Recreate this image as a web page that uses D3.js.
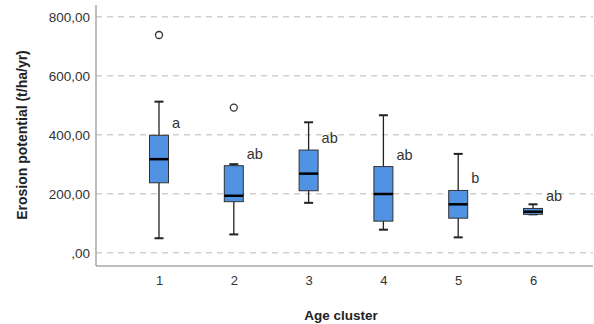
<!DOCTYPE html>
<html>
<head>
<meta charset="utf-8">
<script src="https://cdn.jsdelivr.net/npm/d3@7"></script>
<style>
  body { margin: 0; background: #fff; }
  svg { display: block; font-family: "Liberation Sans", Arial, sans-serif; }
</style>
</head>
<body>
<div id="chart"></div>
<script>
// Données
const clusters = ["1", "2", "3", "4", "5", "6"];
const whiskerLow = [49, 62, 169, 78, 52, 130];
const q1 = [237, 173, 210, 107, 117, 130];
const median = [317, 193, 268, 199, 164, 139];
const q3 = [398, 295, 348, 292, 211, 150];
const whiskerHigh = [512, 300, 442, 466, 335, 164];
const outliers = [[738], [492], [], [], [], []];
const groupLabels = ["a", "ab", "ab", "ab", "b", "ab"];
const yTicks = [0, 200, 400, 600, 800];

const width = 594, height = 324;
const left = 96, right = 593, bottom = 266;

const svg = d3.select("#chart")
  .append("svg")
  .attr("width", width)
  .attr("height", height);

const x = d3.scalePoint()
  .domain(clusters)
  .range([159, 533]);

const y = d3.scaleLinear()
  .domain([0, 800])
  .range([252.7, 16.7]);

// Grille en pointillés
svg.append("g")
  .selectAll("line")
  .data(yTicks)
  .join("line")
  .attr("x1", left)
  .attr("x2", right)
  .attr("y1", d => y(d))
  .attr("y2", d => y(d))
  .attr("stroke", "#cfcfcf")
  .attr("stroke-width", 1.5)
  .attr("stroke-dasharray", "6,5");

// Axes
const yAxis = svg.append("g")
  .attr("transform", "translate(" + left + ",0)")
  .call(d3.axisLeft(y).tickValues(yTicks).tickSize(0).tickPadding(6)
    .tickFormat(d => d === 0 ? ",00" : d3.format(".2f")(d).replace(".", ",")));
yAxis.select(".domain").remove();
yAxis.selectAll("text").attr("font-size", 13.5).attr("fill", "#333")
  .attr("font-family", "Liberation Sans, Arial, sans-serif");

const xAxis = svg.append("g")
  .attr("transform", "translate(0," + bottom + ")")
  .call(d3.axisBottom(x).tickSize(0).tickPadding(10));
xAxis.select(".domain").remove();
xAxis.selectAll("text").attr("font-size", 13).attr("fill", "#333")
  .attr("font-family", "Liberation Sans, Arial, sans-serif");

svg.append("line")
  .attr("x1", left).attr("x2", left)
  .attr("y1", 5).attr("y2", bottom)
  .attr("stroke", "#a8a8a8").attr("stroke-width", 1.5);
svg.append("line")
  .attr("x1", left).attr("x2", right)
  .attr("y1", bottom).attr("y2", bottom)
  .attr("stroke", "#a8a8a8").attr("stroke-width", 1.5);

// Boîtes à moustaches
const boxW = 19, capW = 9;
const g = svg.append("g")
  .selectAll("g")
  .data(clusters)
  .join("g");

g.append("line")
  .attr("x1", d => x(d)).attr("x2", d => x(d))
  .attr("y1", (d, i) => y(whiskerHigh[i]))
  .attr("y2", (d, i) => y(whiskerLow[i]))
  .attr("stroke", "#222").attr("stroke-width", 1.3);

g.append("line")
  .attr("x1", d => x(d) - capW / 2).attr("x2", d => x(d) + capW / 2)
  .attr("y1", (d, i) => y(whiskerHigh[i]))
  .attr("y2", (d, i) => y(whiskerHigh[i]))
  .attr("stroke", "#222").attr("stroke-width", 2);

g.append("line")
  .attr("x1", d => x(d) - capW / 2).attr("x2", d => x(d) + capW / 2)
  .attr("y1", (d, i) => y(whiskerLow[i]))
  .attr("y2", (d, i) => y(whiskerLow[i]))
  .attr("stroke", "#222").attr("stroke-width", 2);

g.append("rect")
  .attr("x", d => x(d) - boxW / 2)
  .attr("width", boxW)
  .attr("y", (d, i) => y(q3[i]))
  .attr("height", (d, i) => y(q1[i]) - y(q3[i]))
  .attr("fill", "#5193e2")
  .attr("stroke", "#333")
  .attr("stroke-width", 1);

g.append("line")
  .attr("x1", d => x(d) - boxW / 2).attr("x2", d => x(d) + boxW / 2)
  .attr("y1", (d, i) => y(median[i]))
  .attr("y2", (d, i) => y(median[i]))
  .attr("stroke", "#000").attr("stroke-width", 2.5);

g.selectAll("circle")
  .data((d, i) => outliers[i].map(v => ({ c: d, v: v })))
  .join("circle")
  .attr("cx", d => x(d.c))
  .attr("cy", d => y(d.v))
  .attr("r", 3.5)
  .attr("fill", "none")
  .attr("stroke", "#333")
  .attr("stroke-width", 1.3);

g.append("text")
  .attr("x", d => x(d) + 13)
  .attr("y", (d, i) => y(q3[i]) - 7)
  .attr("font-size", 14.5)
  .attr("fill", "#333")
  .text((d, i) => groupLabels[i]);

// Titres des axes
svg.append("text")
  .attr("x", 341).attr("y", 320)
  .attr("text-anchor", "middle")
  .attr("font-size", 13.5).attr("font-weight", "bold").attr("fill", "#222")
  .text("Age cluster");

svg.append("text")
  .attr("transform", "translate(27,135) rotate(-90)")
  .attr("text-anchor", "middle")
  .attr("font-size", 14).attr("font-weight", "bold").attr("fill", "#222")
  .text("Erosion potential (t/ha/yr)");
</script>
</body>
</html>
